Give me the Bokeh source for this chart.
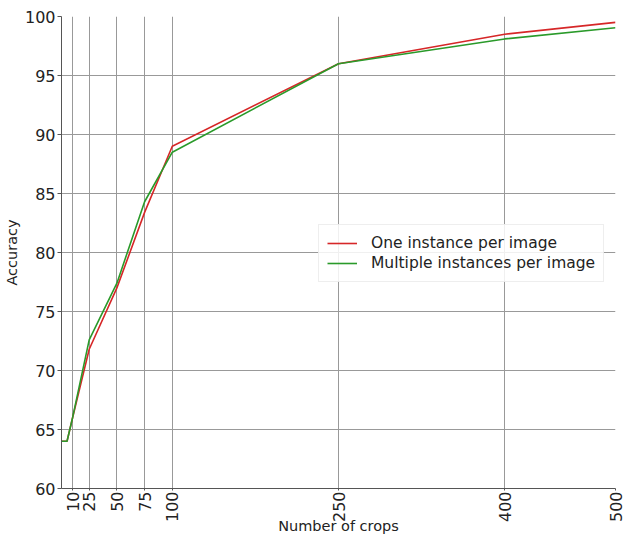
import math
from bokeh.plotting import figure
from bokeh.models import Range1d, FixedTicker, Legend, LegendItem
from bokeh.embed import file_html
from bokeh.resources import INLINE

crops = [0, 5, 10, 25, 50, 75, 100, 250, 400, 500]
one_instance = [64, 64, 66, 71.8, 77.0, 83.4, 89.0, 96.0, 98.5, 99.5]
multi_instance = [64, 64, 66, 72.6, 77.4, 84.3, 88.5, 96.0, 98.1, 99.05]
x_ticks = [10, 25, 50, 75, 100, 250, 400, 500]
y_ticks = [60, 65, 70, 75, 80, 85, 90, 95, 100]

FONT = "DejaVu Sans"

p = figure(frame_width=554, frame_height=472, output_backend="svg", toolbar_location=None,
           x_range=Range1d(0, 500), y_range=Range1d(60, 100),
           min_border_left=10, min_border_right=21, min_border_top=16, min_border_bottom=10)
p.outline_line_color = None

r1 = p.line(crops, one_instance, line_color="#d62728", line_width=1.6)
r2 = p.line(crops, multi_instance, line_color="#2a9a2a", line_width=1.6)

p.xaxis.ticker = FixedTicker(ticks=x_ticks)
p.yaxis.ticker = FixedTicker(ticks=y_ticks)
p.xaxis.minor_tick_line_color = None
p.yaxis.minor_tick_line_color = None
p.xaxis.major_label_orientation = math.pi / 2
for ax in (p.xaxis, p.yaxis):
    ax.major_label_text_font = FONT
    ax.major_label_text_font_size = "16px"
    ax.major_label_text_color = "#222222"
    ax.axis_label_text_font = FONT
    ax.axis_label_text_font_size = "14.5px"
    ax.axis_label_text_font_style = "normal"
    ax.axis_label_text_color = "#222222"
    ax.axis_line_color = "#555555"
    ax.major_tick_line_color = "#555555"
    ax.major_tick_out = 4
    ax.major_tick_in = 0
    ax.major_label_standoff = 2
p.xaxis.major_tick_out = 2
p.xaxis.major_label_standoff = 1
p.xaxis.axis_label = "Number of crops"
p.yaxis.axis_label = "Accuracy"
p.xaxis.axis_label_standoff = -7
p.yaxis.axis_label_standoff = 2

p.xgrid.grid_line_color = "#999999"
p.ygrid.grid_line_color = "#999999"
p.xgrid.grid_line_width = 1
p.ygrid.grid_line_width = 1

legend = Legend(items=[LegendItem(label="One instance per image", renderers=[r1]),
                       LegendItem(label="Multiple instances per image", renderers=[r2])],
                location=(257, 206))
legend.label_text_font = FONT
legend.label_text_font_size = "15.5px"
legend.label_text_color = "#222222"
legend.border_line_color = "#dddddd"
legend.background_fill_alpha = 0.85
legend.glyph_width = 30
legend.label_standoff = 14
legend.spacing = 0
legend.padding = 8
legend.margin = 0
p.add_layout(legend)

open("out.html", "w").write(file_html(p, INLINE))
